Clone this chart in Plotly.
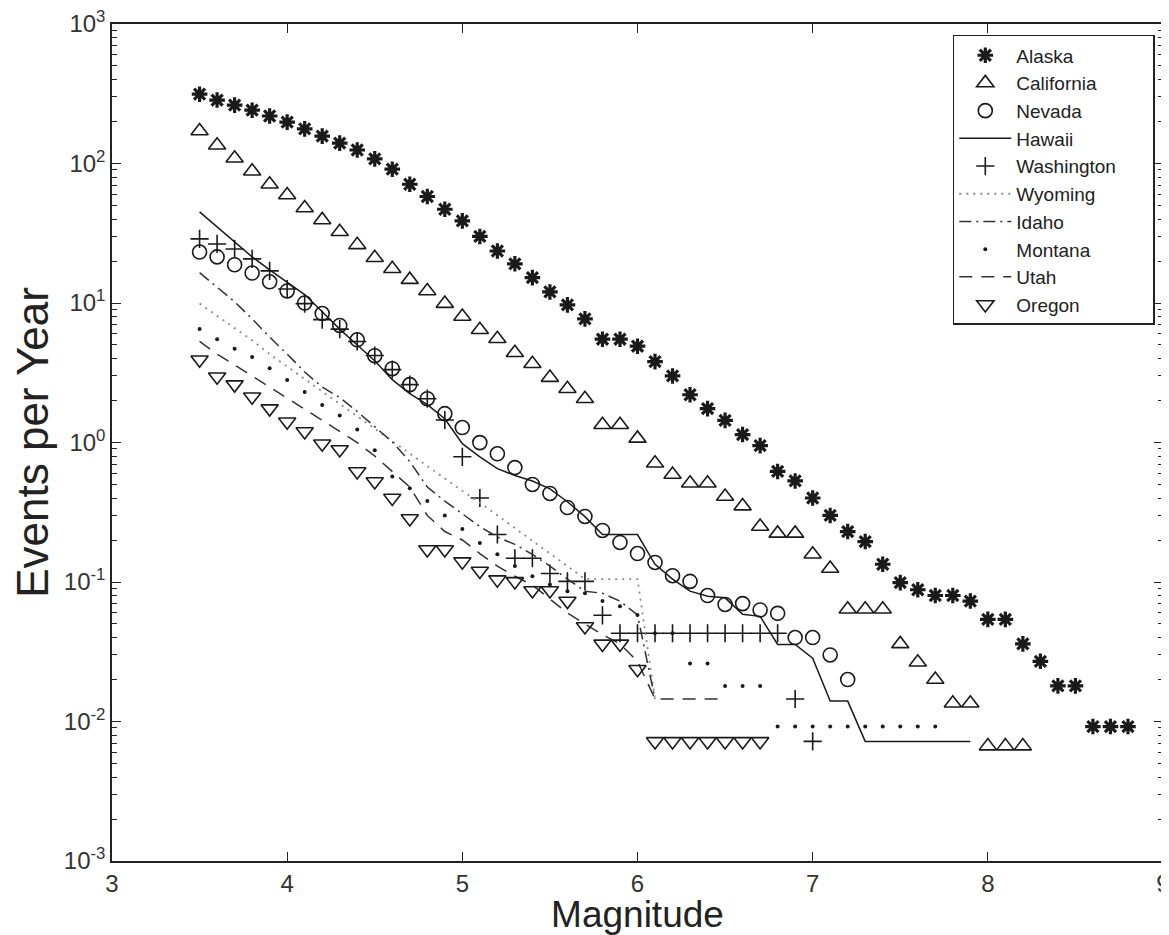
import plotly.graph_objects as go

# Magnitude bins (x axis)
MAG = [3.5, 3.6, 3.7, 3.8, 3.9, 4.0, 4.1, 4.2, 4.3, 4.4, 4.5, 4.6, 4.7, 4.8, 4.9,
       5.0, 5.1, 5.2, 5.3, 5.4, 5.5, 5.6, 5.7, 5.8, 5.9, 6.0, 6.1, 6.2, 6.3, 6.4,
       6.5, 6.6, 6.7, 6.8, 6.9, 7.0, 7.1, 7.2, 7.3, 7.4, 7.5, 7.6, 7.7, 7.8, 7.9,
       8.0, 8.1, 8.2, 8.3, 8.4, 8.5, 8.6, 8.7, 8.8]

alaska = [314, 285, 262, 241, 219, 198, 177, 157, 140, 125, 108, 91, 71, 58, 47,
          38.8, 30, 23.6, 19.1, 15.2, 12.0, 9.7, 7.7, 5.5, 5.5, 4.9, 3.8, 3.0, 2.2, 1.75,
          1.44, 1.14, 0.95, 0.62, 0.53, 0.40, 0.30, 0.23, 0.195, 0.134, 0.099, 0.088, 0.080, 0.080, 0.073,
          0.054, 0.054, 0.036, 0.027, 0.018, 0.018, 0.0092, 0.0092, 0.0092]

california = [171, 135, 109, 88, 71, 59.5, 48, 39.4, 32.4, 26.1, 21.1, 17.6, 14.7, 12.2, 9.9,
              8.0, 6.43, 5.54, 4.40, 3.67, 2.92, 2.43, 2.06, 1.34, 1.34, 1.07, 0.71, 0.59, 0.51, 0.51,
              0.41, 0.35, 0.25, 0.223, 0.223, 0.158, 0.125, 0.0637, 0.0637, 0.0637, 0.036, 0.0266, 0.020, 0.0135, 0.0135,
              0.00666, 0.00666, 0.00666]

nevada = [23.2, 21.4, 18.8, 16.4, 14.2, 12.2, 10.0, 8.4, 6.9, 5.45, 4.19, 3.38, 2.60, 2.06, 1.61,
          1.28, 0.998, 0.83, 0.661, 0.500, 0.431, 0.342, 0.295, 0.234, 0.192, 0.160, 0.138, 0.111, 0.101, 0.080,
          0.069, 0.070, 0.063, 0.0596, 0.040, 0.040, 0.030, 0.020]

hawaii = [45, 35, 27.4, 21.4, 17.3, 14.2, 11.5, 8.65, 6.5, 5.0, 3.86, 2.82, 2.24, 1.87, 1.48,
          0.98, 0.79, 0.65, 0.58, 0.53, 0.465, 0.376, 0.294, 0.219, 0.219, 0.219, 0.134, 0.105, 0.086, 0.079,
          0.077, 0.0587, 0.0567, 0.0357, 0.0357, 0.0284, 0.014, 0.014, 0.0072, 0.0072, 0.0072, 0.0072, 0.0072, 0.0072, 0.0072]

washington = [28.8, 26.5, 24.4, 20.7, 17.0, 12.6, 9.9, 7.6, 6.5, 5.3, 4.2, 3.33, 2.60, 2.06, 1.45,
              0.79, 0.40, 0.219, 0.148, 0.148, 0.115, 0.101, 0.101, 0.0577, 0.0429, 0.0429, 0.0429, 0.0429, 0.0429, 0.0429,
              0.0429, 0.0429, 0.0429, 0.0429, 0.0145, 0.0072]

wyoming = [9.9, 8.1, 6.6, 5.4, 4.3, 3.5, 2.86, 2.34, 1.90, 1.56, 1.26, 1.03, 0.83, 0.68, 0.55,
           0.45, 0.37, 0.30, 0.24, 0.195, 0.16, 0.13, 0.105, 0.105, 0.105, 0.105, 0.0145]

idaho = [16.5, 13.0, 10.2, 7.7, 5.7, 4.3, 3.2, 2.5, 2.1, 1.67, 1.30, 1.01, 0.73, 0.48, 0.38,
         0.31, 0.25, 0.21, 0.186, 0.158, 0.13, 0.105, 0.086, 0.083, 0.073, 0.058, 0.0145]

montana = [6.5, 5.5, 4.7, 4.1, 3.4, 2.8, 2.3, 1.86, 1.56, 1.24, 0.88, 0.57, 0.47, 0.38, 0.30,
           0.24, 0.19, 0.158, 0.13, 0.11, 0.096, 0.086, 0.083, 0.073, 0.067, 0.058, 0.043, 0.043, 0.026, 0.026,
           0.018, 0.018, 0.018, 0.0092, 0.0092, 0.0092, 0.0092, 0.0092, 0.0092, 0.0092, 0.0092, 0.0092, 0.0092]

utah = [5.3, 4.3, 3.6, 3.0, 2.5, 2.1, 1.75, 1.45, 1.2, 1.0, 0.8, 0.62, 0.48, 0.3, 0.23,
        0.2, 0.16, 0.13, 0.11, 0.095, 0.075, 0.06, 0.05, 0.042, 0.036, 0.027, 0.0145, 0.0145, 0.0145, 0.0145,
        0.0145]

oregon = [3.92, 2.96, 2.60, 2.13, 1.75, 1.41, 1.20, 0.98, 0.89, 0.62, 0.525, 0.40, 0.285, 0.171, 0.171,
          0.14, 0.12, 0.104, 0.101, 0.087, 0.087, 0.073, 0.048, 0.036, 0.036, 0.0237, 0.0072, 0.0072, 0.0072, 0.0072,
          0.0072, 0.0072, 0.0072]

Y_TICKS = [1e-3, 1e-2, 1e-1, 1e0, 1e1, 1e2, 1e3]
Y_TICKTEXT = ["10<sup>-3</sup>", "10<sup>-2</sup>", "10<sup>-1</sup>", "10<sup>0</sup>",
              "10<sup>1</sup>", "10<sup>2</sup>", "10<sup>3</sup>"]
X_TICKS = [3, 4, 5, 6, 7, 8, 9]

BLACK = "#1a1a1a"
NB = "\u00a0"
fig = go.Figure()


def xs(vals):
    return MAG[:len(vals)]


fig.add_trace(go.Scatter(x=xs(alaska), y=alaska, name="Alaska", mode="markers",
                         marker=dict(symbol="asterisk-open", size=13, color=BLACK,
                                     line=dict(color=BLACK, width=3.2))))
fig.add_trace(go.Scatter(x=xs(california), y=california, name="California", mode="markers",
                         marker=dict(symbol="triangle-up-open", size=15, color=BLACK,
                                     line=dict(color=BLACK, width=1.6))))
fig.add_trace(go.Scatter(x=xs(nevada), y=nevada, name="Nevada", mode="markers",
                         marker=dict(symbol="circle-open", size=14, color=BLACK,
                                     line=dict(color=BLACK, width=1.6))))
fig.add_trace(go.Scatter(x=xs(hawaii), y=hawaii, name="Hawaii", mode="lines",
                         line=dict(color=BLACK, width=1.5)))
fig.add_trace(go.Scatter(x=xs(washington), y=washington, name="Washington" + NB * 6, mode="markers",
                         marker=dict(symbol="cross-thin-open", size=13, color=BLACK,
                                     line=dict(color=BLACK, width=1.6))))
fig.add_trace(go.Scatter(x=xs(wyoming), y=wyoming, name="Wyoming", mode="lines",
                         line=dict(color="#8a8a8a", width=1.8, dash="2px,5px")))
fig.add_trace(go.Scatter(x=xs(idaho), y=idaho, name="Idaho", mode="lines",
                         line=dict(color="#333333", width=1.5, dash="12px,5px,2px,5px")))
fig.add_trace(go.Scatter(x=xs(montana), y=montana, name="Montana", mode="markers",
                         marker=dict(symbol="circle", size=4, color=BLACK)))
fig.add_trace(go.Scatter(x=xs(utah), y=utah, name="Utah", mode="lines",
                         line=dict(color="#333333", width=1.5, dash="13px,9px")))
fig.add_trace(go.Scatter(x=xs(oregon), y=oregon, name="Oregon", mode="markers",
                         marker=dict(symbol="triangle-down-open", size=15, color=BLACK,
                                     line=dict(color=BLACK, width=1.6))))

minor_vals = [m * 10 ** e for e in range(-3, 3) for m in range(2, 10)]

fig.update_layout(
    width=1161, height=927,
    margin=dict(l=104, r=6, t=16, b=74, autoexpand=False),
    paper_bgcolor="white", plot_bgcolor="white",
    font=dict(family="Liberation Sans, Arial, sans-serif", color="#222222"),
    showlegend=True,
    legend=dict(x=0.8, y=0.987, xanchor="left", yanchor="top",
                bgcolor="white", bordercolor="#222222", borderwidth=1.5,
                font=dict(size=19, color="#222222"), itemwidth=52,
                tracegroupgap=0),
    xaxis=dict(range=[3, 9], tickmode="array", tickvals=X_TICKS,
               ticks="inside", ticklen=9, tickwidth=1.2, tickcolor="#222222",
               showline=True, linecolor="#222222", linewidth=1.5, mirror="ticks",
               showgrid=False, zeroline=False, ticklabeloverflow="allow",
               tickfont=dict(size=24, color="#333333"),
               title=dict(text="Magnitude", font=dict(size=37, color="#222222"), standoff=4),
               automargin=False),
    yaxis=dict(type="log", range=[-3, 3], tickmode="array", tickvals=Y_TICKS,
               ticktext=Y_TICKTEXT,
               ticks="inside", ticklen=9, tickwidth=1.2, tickcolor="#222222",
               minor=dict(tickmode="array", tickvals=minor_vals, ticks="inside",
                          ticklen=5, tickwidth=1, tickcolor="#222222", showgrid=False),
               showline=True, linecolor="#222222", linewidth=1.5, mirror="ticks",
               showgrid=False, zeroline=False, ticklabeloverflow="allow",
               tickfont=dict(size=24, color="#333333"),
               title=dict(text="Events per Year", font=dict(size=44, color="#222222"), standoff=8),
               automargin=False),
)

fig.write_html("out.html")
